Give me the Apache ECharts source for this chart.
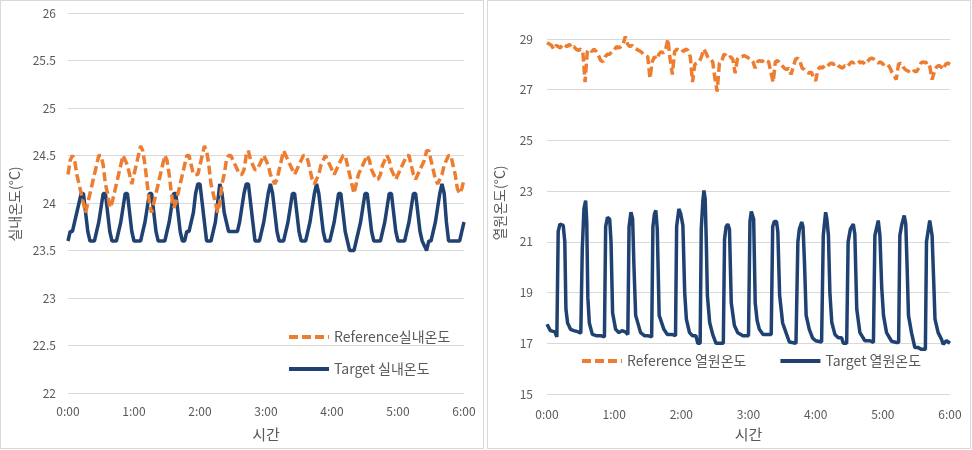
<!DOCTYPE html>
<html><head><meta charset="utf-8">
<script src="https://cdn.jsdelivr.net/npm/echarts@6/dist/echarts.min.js"></script>
<style>
html,body{margin:0;padding:0;background:#fff;width:972px;height:450px;overflow:hidden;}
.chart{position:absolute;top:0;height:450px;}
.frame{position:absolute;top:0;box-sizing:border-box;border:1px solid #d9d9d9;pointer-events:none;}
</style></head>
<body>
<div id="left" class="chart" style="left:0;width:484px;"></div>
<div id="right" class="chart" style="left:487px;width:485px;"></div>
<div class="frame" style="left:0;width:484px;height:449px;"></div>
<div class="frame" style="left:487px;width:484px;height:449px;"></div>
<script>
// ---- sampling grid (minutes after 0:00) ----
const SAMPLE_STEP_MIN = 2;
const SAMPLE_COUNT = 181;
const timeGrid = Array.from({length: SAMPLE_COUNT}, (_, i) => i * SAMPLE_STEP_MIN);

// ---- tick labels ----
const xTickHours = ['0:00','1:00','2:00','3:00','4:00','5:00','6:00'];

// ---- series names ----
const leftRefName = 'Reference실내온도';
const leftTgtName = 'Target 실내온도';
const rightRefName = 'Reference 열원온도';
const rightTgtName = 'Target 열원온도';

// ---- left chart: indoor temperature, every 2 min ----
const leftTargetTemp = [
  23.6,23.7,23.7,23.8,23.9,24.0,24.1,24.1,23.9,23.7,23.6,23.6,
  23.6,23.7,23.8,23.95,24.1,24.1,23.9,23.7,23.6,23.6,
  23.6,23.7,23.8,23.95,24.1,24.1,23.9,23.7,23.6,23.6,23.6,
  23.6,23.7,23.8,23.95,24.1,24.1,23.9,23.7,23.6,23.6,23.6,
  23.6,23.7,23.8,23.95,24.1,24.1,23.9,23.7,23.6,23.6,23.7,
  23.7,23.8,23.9,24.1,24.2,24.2,24.0,23.8,23.6,23.6,
  23.6,23.7,23.8,24.0,24.2,24.1,23.9,23.8,23.7,23.7,23.7,23.7,23.7,
  23.8,23.95,24.1,24.2,24.2,24.0,23.8,23.6,23.6,23.6,
  23.7,23.8,23.95,24.1,24.2,24.1,23.9,23.7,23.6,23.6,
  23.6,23.7,23.8,23.95,24.1,24.1,23.9,23.7,23.6,23.6,23.6,
  23.7,23.8,23.95,24.1,24.2,24.1,23.9,23.7,23.6,23.6,23.6,
  23.7,23.8,23.95,24.1,24.1,23.9,23.7,23.6,23.5,23.5,23.5,23.6,
  23.7,23.8,23.95,24.1,24.1,23.9,23.7,23.6,23.6,23.6,23.6,
  23.7,23.8,23.95,24.1,24.1,23.9,23.7,23.6,23.6,23.6,23.6,
  23.7,23.8,23.95,24.1,24.1,23.9,23.7,23.6,23.55,23.5,23.6,23.6,
  23.7,23.8,23.95,24.1,24.2,24.1,23.8,23.6,23.6,23.6,23.6,23.6,23.6,23.7,23.8
];
const leftReferenceTemp = [
  24.3,24.45,24.5,24.45,24.3,24.2,24.1,24.0,23.9,24.0,
  24.1,24.2,24.3,24.4,24.5,24.5,24.4,24.2,24.1,23.95,
  24.0,24.1,24.2,24.3,24.4,24.5,24.45,24.4,24.3,24.2,
  24.3,24.4,24.5,24.6,24.55,24.4,24.2,24.0,23.9,24.0,
  24.1,24.2,24.3,24.4,24.5,24.45,24.3,24.1,23.95,24.0,
  24.1,24.2,24.3,24.4,24.5,24.5,24.4,24.3,24.3,24.3,
  24.4,24.5,24.6,24.55,24.4,24.2,24.1,24.0,23.9,24.0,
  24.2,24.3,24.45,24.5,24.5,24.45,24.4,24.35,24.3,24.3,
  24.35,24.5,24.55,24.45,24.4,24.35,24.35,24.4,24.45,24.5,
  24.45,24.4,24.3,24.25,24.2,24.25,24.35,24.45,24.55,24.5,
  24.45,24.4,24.35,24.3,24.35,24.4,24.45,24.5,24.5,24.45,
  24.35,24.25,24.2,24.25,24.3,24.4,24.45,24.5,24.45,24.4,
  24.35,24.3,24.35,24.4,24.45,24.5,24.5,24.4,24.3,24.2,
  24.1,24.2,24.3,24.35,24.4,24.45,24.5,24.45,24.35,24.3,
  24.25,24.25,24.3,24.4,24.45,24.5,24.45,24.35,24.3,24.25,
  24.3,24.35,24.4,24.45,24.5,24.5,24.4,24.3,24.25,24.3,
  24.35,24.4,24.45,24.55,24.55,24.45,24.35,24.25,24.2,24.25,
  24.3,24.4,24.45,24.5,24.5,24.4,24.3,24.15,24.1,24.15,
  24.25
];

// ---- right chart: heat-source temperature ----
const rightReferenceTemp = [
  28.85,28.8,28.75,28.6,28.75,28.7,28.65,28.8,28.75,28.7,
  28.8,28.65,28.7,28.6,28.55,28.6,28.5,27.3,28.5,28.6,
  28.5,28.6,28.5,28.35,28.15,28.1,28.3,28.4,28.4,28.5,
  28.55,28.7,28.65,28.7,28.8,29.1,28.8,28.7,28.75,28.65,
  28.6,28.55,28.5,28.4,28.35,28.3,27.45,28.1,28.3,28.2,
  28.4,28.5,28.45,28.6,29.0,28.2,27.6,28.5,28.6,28.55,
  28.6,28.5,28.6,28.55,28.3,27.3,28.0,28.05,28.1,28.3,
  28.6,28.45,28.25,28.2,28.1,27.45,26.93,28.05,28.1,28.4,
  28.35,28.25,28.3,28.2,27.65,28.2,28.3,28.3,28.35,28.3,
  28.25,28.2,28.1,27.85,28.1,28.15,28.1,28.2,28.15,28.1,
  27.7,27.3,28.1,28.15,28.05,27.95,27.85,27.8,27.85,27.6,
  27.9,28.2,28.25,28.1,27.85,27.8,27.7,27.65,27.7,27.5,
  27.35,27.8,27.9,27.85,27.95,27.9,28.0,28.05,28.0,28.05,
  27.95,27.9,27.85,27.95,27.9,28.0,28.1,28.05,28.1,28.15,
  28.05,28.1,28.0,28.1,28.2,28.25,28.2,28.1,28.05,28.1,
  28.0,28.05,28.0,27.9,27.7,27.55,27.4,28.0,28.05,27.9,
  27.8,27.75,27.7,27.65,27.75,27.7,27.85,28.05,28.1,28.05,
  28.1,27.9,27.4,27.7,27.9,27.95,27.9,27.8,28.0,28.05,
  28.0
];
// Target heat-source temperature: read at the turning points (minutes, °C)
const rightTargetTime = [
  0,3,7,8.8,10,11.5,13,14.5,15.9,16.9,18.4,21,24,28,
  30.2,31.5,33,34.5,35.5,36.5,37.8,40.5,44,48,51.3,
  52.4,54,56,57.2,58.6,61.3,64.3,67,70,72.2,
  73.3,75,76.5,77.7,79.2,83.6,87,90,93.5,
  94.6,96,97.2,98.5,100.2,104.4,107.5,111.5,114.8,
  115.8,117.8,119.5,121.4,123,124.5,127.3,130,133,134.7,136.8,
  137.8,139.2,140.2,141.3,142.3,143.3,145.3,148,151,155.5,157.5,
  158.6,160,161.5,163,164.6,167.4,170.4,175,178,180,
  181.3,182.5,183.5,184.6,186,187.7,189.7,193,197,200.3,
  201.6,203,205,206.2,207.8,210.5,213.5,216.5,222.4,223,
  224.1,225.4,227.5,228.7,230,231.5,234.3,237.3,240,245.3,
  246.8,248.9,250,251.4,252.7,254.4,257.2,260.2,263.2,264.7,267.7,
  269,271,273.6,275,276.7,279.5,284,288.4,291.6,
  292.9,295.9,297.4,299,300.6,303.3,307.8,312.2,314.1,
  315.2,317,319.1,320.5,321.7,322.9,325.6,328.6,331.6,334.5,338,
  339,341.9,344,345.4,346.6,349.4,352.4,353.9,356.8,360
];
const rightTargetTemp = [
  17.75,17.5,17.45,17.25,21.4,21.7,21.75,21.65,21.0,18.35,17.8,17.55,17.5,17.45,
  17.4,20.7,22.3,22.63,21.8,18.8,17.8,17.35,17.3,17.3,17.25,
  21.6,21.97,21.9,21.0,18.2,17.55,17.42,17.5,17.45,17.35,
  21.6,22.17,21.9,20.0,18.1,17.42,17.3,17.3,17.25,
  21.6,22.1,22.24,21.5,18.1,17.55,17.35,17.35,17.3,
  21.6,22.3,22.1,21.64,19.0,17.95,17.42,17.3,17.3,17.0,17.0,
  21.5,22.6,23.03,22.7,21.0,18.87,17.82,17.35,17.0,17.0,17.0,
  21.1,21.6,21.7,21.5,18.6,17.7,17.42,17.3,17.3,17.3,
  21.8,22.2,22.24,21.9,18.6,17.9,17.55,17.35,17.35,17.35,
  21.6,21.8,21.8,21.4,18.9,17.8,17.42,17.05,17.0,17.0,
  21.0,21.5,21.78,21.6,20.2,18.1,17.55,17.2,17.1,17.05,
  21.25,22.17,21.9,21.25,19.0,17.82,17.35,17.22,17.22,17.0,17.0,
  21.0,21.5,21.7,21.3,18.35,17.42,17.1,17.1,17.03,
  21.25,21.84,21.25,19.2,18.1,17.42,17.08,17.03,17.03,
  21.25,21.7,22.04,21.7,20.0,18.1,17.42,16.83,16.83,16.76,16.76,
  21.0,21.84,21.25,19.5,17.95,17.42,17.16,16.96,17.1,17.0
];

// ---- styling ----
const FONT = '"Noto Sans CJK KR", "Noto Sans", sans-serif';
const ORANGE = '#ED7D31';
const NAVY = '#1F4272';
const GRIDC = '#D9D9D9';
const TXT = '#595959';

const pair = (ts, vs) => ts.map((t, i) => [t, vs[i]]);

function xAxisCfg(nameGap, labelMargin) {
  return {
    type: 'value', min: 0, max: 360, interval: 60,
    name: '시간', nameLocation: 'middle', nameGap: nameGap,
    nameTextStyle: {fontSize: 15, color: TXT, fontFamily: FONT},
    axisLine: {show: false}, axisTick: {show: false}, splitLine: {show: false},
    axisLabel: {color: TXT, fontSize: 12, fontFamily: FONT, margin: labelMargin,
      formatter: v => xTickHours[Math.round(v / 60)]}
  };
}
function yAxisCfg(min, max, interval, margin) {
  return {
    type: 'value', min: min, max: max, interval: interval,
    axisLine: {show: false}, axisTick: {show: false},
    splitLine: {show: true, lineStyle: {color: GRIDC, width: 1}},
    axisLabel: {color: TXT, fontSize: 12, fontFamily: FONT, margin: margin}
  };
}
function yTitle(x, y, text) {
  return {type: 'text', x: x, y: y, rotation: Math.PI / 2,
    style: {text: text, fill: TXT, font: '14px ' + FONT, align: 'center', verticalAlign: 'middle'}};
}
const refLine = {color: ORANGE, width: 3.5, type: [9, 4]};
const tgtLine = {color: NAVY, width: 3.5};
const legendBase = {
  padding: 0, itemWidth: 40, itemHeight: 14,
  itemStyle: {opacity: 0, borderWidth: 0},
  lineStyle: {width: 4},
  textStyle: {fontSize: 14, color: TXT, fontFamily: FONT}
};

const leftChart = echarts.init(document.getElementById('left'), null, {renderer: 'canvas'});
leftChart.setOption({
  animation: false,
  textStyle: {fontFamily: FONT},
  grid: {left: 68, right: 20, top: 13, bottom: 57},
  xAxis: xAxisCfg(34, 12),
  yAxis: yAxisCfg(22, 26, 0.5, 12),
  graphic: [yTitle(15, 204, '실내온도(°C)')],
  legend: Object.assign({}, legendBase, {
    orient: 'vertical', left: 287, top: 330, itemGap: 18,
    data: [leftRefName, leftTgtName]
  }),
  series: [
    {name: leftTgtName, type: 'line', symbol: 'none', data: pair(timeGrid, leftTargetTemp),
     lineStyle: tgtLine, itemStyle: {color: NAVY}},
    {name: leftRefName, type: 'line', symbol: 'none', data: pair(timeGrid, leftReferenceTemp),
     lineStyle: refLine, itemStyle: {color: ORANGE}}
  ]
});

const rightChart = echarts.init(document.getElementById('right'), null, {renderer: 'canvas'});
rightChart.setOption({
  animation: false,
  textStyle: {fontFamily: FONT},
  grid: {left: 60, right: 22, top: 39, bottom: 56},
  xAxis: xAxisCfg(33, 14),
  yAxis: yAxisCfg(15, 29, 2, 14),
  graphic: [yTitle(13, 203, '열원온도(°C)')],
  legend: Object.assign({}, legendBase, {
    orient: 'horizontal', left: 93, top: 354, itemGap: 32,
    data: [rightRefName, rightTgtName]
  }),
  series: [
    {name: rightTgtName, type: 'line', symbol: 'none', clip: false,
     data: pair(rightTargetTime, rightTargetTemp), lineStyle: tgtLine, itemStyle: {color: NAVY}},
    {name: rightRefName, type: 'line', symbol: 'none', clip: false,
     data: pair(timeGrid, rightReferenceTemp), lineStyle: refLine, itemStyle: {color: ORANGE}}
  ]
});
</script>
</body></html>
